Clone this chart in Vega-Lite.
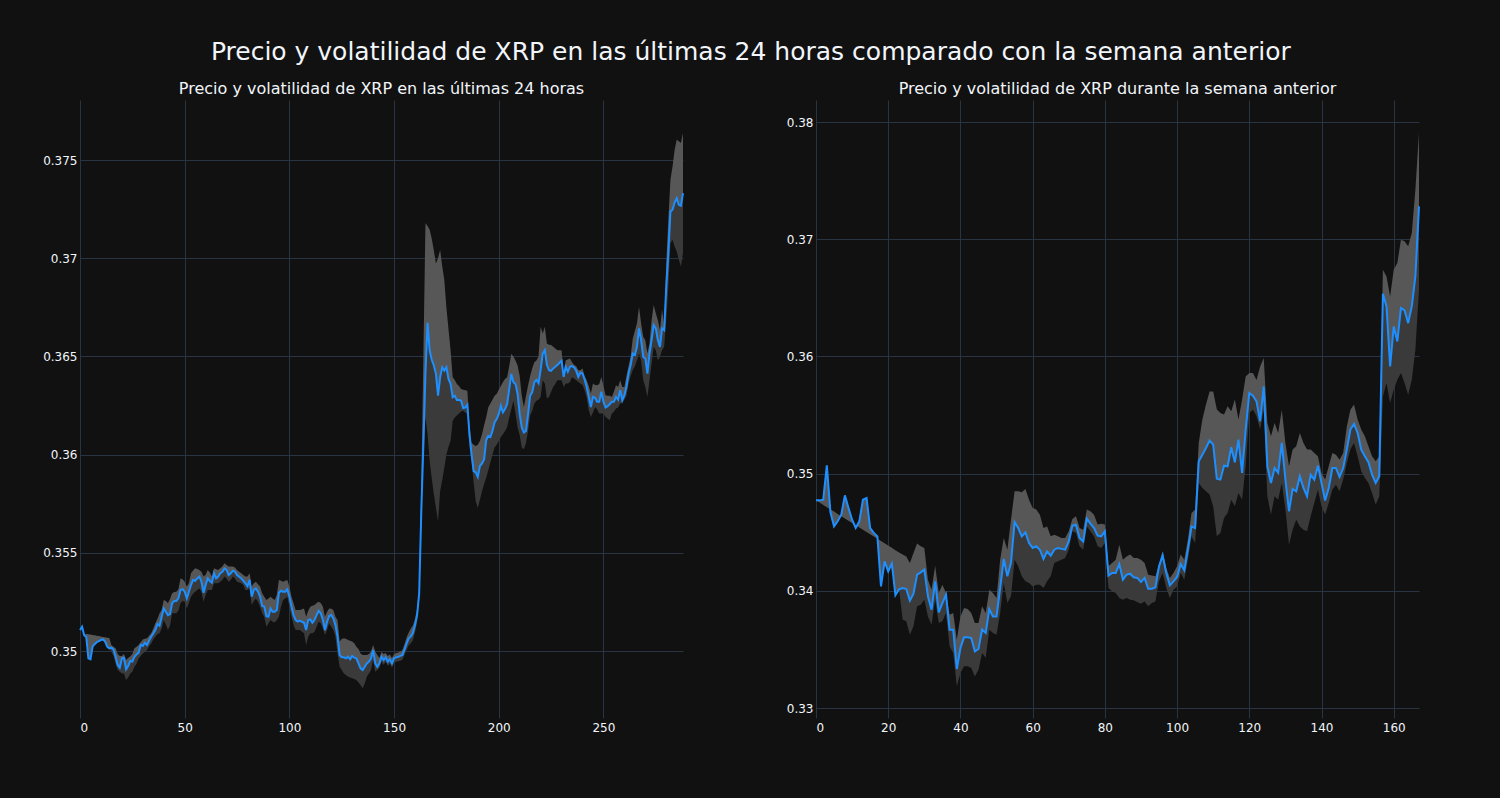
{
"$schema": "https://vega.github.io/schema/vega-lite/v6.json",
"background": "#111111",
"padding": {"left": 42, "top": 40, "right": 77, "bottom": 65},
"title": {"text": "Precio y volatilidad de XRP en las últimas 24 horas comparado con la semana anterior", "fontSize": 25, "font": "DejaVu Sans", "fontWeight": "normal", "color": "#f2f5fa", "anchor": "middle", "offset": 16, "dx": 18},
"config": {
 "view": {"stroke": null},
 "axis": {"gridColor": "#283442", "gridWidth": 1, "domain": false, "ticks": false, "labelColor": "#f2f5fa", "labelFont": "DejaVu Sans", "labelFontSize": 12, "labelPadding": 3},
 "axisX": {"labelPadding": 4},
 "title": {"fontSize": 16, "font": "DejaVu Sans", "fontWeight": "normal", "color": "#f2f5fa", "offset": 3}
},
"datasets": {
"d24": [
{"x":0,"p":0.35107,"u":0.35107,"l":0.35107},{"x":1,"p":0.35124,"u":0.35124,"l":0.35124},{"x":2,"p":0.35081,"u":0.35081,"l":0.35081},{"x":3,"p":0.35071,"u":0.35088,"l":0.35071},{"x":4,"p":0.34963,"u":0.35086,"l":0.34963},{"x":5,"p":0.34958,"u":0.35084,"l":0.34958},{"x":6,"p":0.35022,"u":0.35082,"l":0.35022},{"x":7,"p":0.35035,"u":0.3508,"l":0.35035},{"x":8,"p":0.35045,"u":0.35078,"l":0.35045},{"x":9,"p":0.35051,"u":0.35076,"l":0.35051},
{"x":10,"p":0.35056,"u":0.35074,"l":0.35056},{"x":11,"p":0.35059,"u":0.35072,"l":0.35059},{"x":12,"p":0.35048,"u":0.3507,"l":0.35048},{"x":13,"p":0.35022,"u":0.35068,"l":0.35022},{"x":14,"p":0.35014,"u":0.35066,"l":0.35014},{"x":15,"p":0.35017,"u":0.3503,"l":0.34995},{"x":16,"p":0.35008,"u":0.35022,"l":0.34975},{"x":17,"p":0.34971,"u":0.35014,"l":0.34935},{"x":18,"p":0.34929,"u":0.34985,"l":0.34905},{"x":19,"p":0.34915,"u":0.34975,"l":0.34895},
{"x":20,"p":0.34963,"u":0.34975,"l":0.34886},{"x":21,"p":0.34966,"u":0.34985,"l":0.34885},{"x":22,"p":0.34907,"u":0.34954,"l":0.34852},{"x":23,"p":0.34924,"u":0.34965,"l":0.34865},{"x":24,"p":0.34949,"u":0.34972,"l":0.34886},{"x":25,"p":0.34946,"u":0.34985,"l":0.34895},{"x":26,"p":0.34971,"u":0.35014,"l":0.3492},{"x":27,"p":0.34983,"u":0.35022,"l":0.34935},{"x":28,"p":0.34992,"u":0.35031,"l":0.34963},{"x":29,"p":0.35031,"u":0.35045,"l":0.34975},
{"x":30,"p":0.35026,"u":0.35059,"l":0.34988},{"x":31,"p":0.35042,"u":0.35062,"l":0.34995},{"x":32,"p":0.35031,"u":0.35065,"l":0.35005},{"x":33,"p":0.35053,"u":0.35078,"l":0.35025},{"x":34,"p":0.35073,"u":0.3509,"l":0.35039},{"x":35,"p":0.3509,"u":0.35115,"l":0.35059},{"x":36,"p":0.35107,"u":0.35141,"l":0.35073},{"x":37,"p":0.35138,"u":0.35165,"l":0.35085},{"x":38,"p":0.35129,"u":0.35192,"l":0.3509},{"x":39,"p":0.35175,"u":0.35209,"l":0.35115},
{"x":40,"p":0.35217,"u":0.3526,"l":0.35158},{"x":41,"p":0.352,"u":0.35255,"l":0.35135},{"x":42,"p":0.35183,"u":0.35243,"l":0.35107},{"x":43,"p":0.35188,"u":0.35265,"l":0.3513},{"x":44,"p":0.35243,"u":0.35294,"l":0.35192},{"x":45,"p":0.35255,"u":0.353,"l":0.35192},{"x":46,"p":0.35255,"u":0.35302,"l":0.35192},{"x":47,"p":0.35268,"u":0.35315,"l":0.35205},{"x":48,"p":0.35311,"u":0.3537,"l":0.35243},{"x":49,"p":0.35315,"u":0.35365,"l":0.35255},
{"x":50,"p":0.35302,"u":0.35353,"l":0.35251},{"x":51,"p":0.35268,"u":0.35328,"l":0.35217},{"x":52,"p":0.35302,"u":0.35345,"l":0.35245},{"x":53,"p":0.35336,"u":0.35396,"l":0.35277},{"x":54,"p":0.35362,"u":0.3541,"l":0.35292},{"x":55,"p":0.35358,"u":0.35421,"l":0.35302},{"x":56,"p":0.3537,"u":0.35418,"l":0.35311},{"x":57,"p":0.35379,"u":0.35413,"l":0.35319},{"x":58,"p":0.35353,"u":0.35404,"l":0.35302},{"x":59,"p":0.35297,"u":0.35379,"l":0.35251},
{"x":60,"p":0.35336,"u":0.35388,"l":0.35285},{"x":61,"p":0.3537,"u":0.35413,"l":0.35311},{"x":62,"p":0.35357,"u":0.354,"l":0.35311},{"x":63,"p":0.35348,"u":0.35379,"l":0.35311},{"x":64,"p":0.35396,"u":0.35421,"l":0.35345},{"x":65,"p":0.3537,"u":0.35417,"l":0.35345},{"x":66,"p":0.35379,"u":0.35413,"l":0.35345},{"x":67,"p":0.35396,"u":0.35422,"l":0.35353},{"x":68,"p":0.35404,"u":0.3543,"l":0.35362},{"x":69,"p":0.35421,"u":0.35447,"l":0.35379},
{"x":70,"p":0.35413,"u":0.35438,"l":0.3537},{"x":71,"p":0.35387,"u":0.3543,"l":0.35353},{"x":72,"p":0.35396,"u":0.3543,"l":0.35362},{"x":73,"p":0.35409,"u":0.3543,"l":0.35379},{"x":74,"p":0.35404,"u":0.35425,"l":0.3537},{"x":75,"p":0.35387,"u":0.35413,"l":0.35353},{"x":76,"p":0.35379,"u":0.35404,"l":0.35349},{"x":77,"p":0.3537,"u":0.35396,"l":0.35345},{"x":78,"p":0.35358,"u":0.35387,"l":0.35336},{"x":79,"p":0.35345,"u":0.35379,"l":0.35311},
{"x":80,"p":0.35331,"u":0.35379,"l":0.35311},{"x":81,"p":0.35362,"u":0.35396,"l":0.35319},{"x":82,"p":0.35277,"u":0.35328,"l":0.35234},{"x":83,"p":0.35311,"u":0.35345,"l":0.35255},{"x":84,"p":0.35319,"u":0.35353,"l":0.35268},{"x":85,"p":0.35302,"u":0.3534,"l":0.35251},{"x":86,"p":0.35277,"u":0.35328,"l":0.35226},{"x":87,"p":0.35229,"u":0.35294,"l":0.35192},{"x":88,"p":0.35226,"u":0.35277,"l":0.35175},{"x":89,"p":0.35178,"u":0.3526,"l":0.35124},
{"x":90,"p":0.35175,"u":0.35268,"l":0.35141},{"x":91,"p":0.35217,"u":0.35277,"l":0.35158},{"x":92,"p":0.352,"u":0.35268,"l":0.35149},{"x":93,"p":0.352,"u":0.3526,"l":0.35145},{"x":94,"p":0.35209,"u":0.35285,"l":0.35158},{"x":95,"p":0.35297,"u":0.35362,"l":0.35175},{"x":96,"p":0.35307,"u":0.35358,"l":0.35226},{"x":97,"p":0.35302,"u":0.35353,"l":0.3526},{"x":98,"p":0.35302,"u":0.35358,"l":0.35268},{"x":99,"p":0.35314,"u":0.35362,"l":0.35277},
{"x":100,"p":0.35277,"u":0.35328,"l":0.35226},{"x":101,"p":0.35226,"u":0.35277,"l":0.35175},{"x":102,"p":0.35183,"u":0.35243,"l":0.35132},{"x":103,"p":0.35158,"u":0.35209,"l":0.35107},{"x":104,"p":0.3515,"u":0.35209,"l":0.35107},{"x":105,"p":0.35155,"u":0.35209,"l":0.35107},{"x":106,"p":0.35149,"u":0.35213,"l":0.35098},{"x":107,"p":0.35144,"u":0.35217,"l":0.3509},{"x":108,"p":0.35107,"u":0.35175,"l":0.35031},{"x":109,"p":0.35158,"u":0.35205,"l":0.35073},
{"x":110,"p":0.35161,"u":0.35226,"l":0.3509},{"x":111,"p":0.35144,"u":0.3523,"l":0.3509},{"x":112,"p":0.35158,"u":0.35234,"l":0.35098},{"x":113,"p":0.35183,"u":0.35245,"l":0.35124},{"x":114,"p":0.35205,"u":0.35251,"l":0.35149},{"x":115,"p":0.35192,"u":0.35245,"l":0.35141},{"x":116,"p":0.35158,"u":0.35226,"l":0.35115},{"x":117,"p":0.35107,"u":0.35175,"l":0.35082},{"x":118,"p":0.35149,"u":0.352,"l":0.35107},{"x":119,"p":0.35178,"u":0.35217,"l":0.35141},
{"x":120,"p":0.35183,"u":0.35215,"l":0.35124},{"x":121,"p":0.35166,"u":0.35209,"l":0.35107},{"x":122,"p":0.35132,"u":0.35175,"l":0.35073},{"x":123,"p":0.35073,"u":0.35158,"l":0.34988},{"x":124,"p":0.3498,"u":0.35048,"l":0.3492},{"x":125,"p":0.34968,"u":0.35061,"l":0.34903},{"x":126,"p":0.34968,"u":0.35065,"l":0.34886},{"x":127,"p":0.34963,"u":0.35063,"l":0.34878},{"x":128,"p":0.34971,"u":0.35056,"l":0.34869},{"x":129,"p":0.34958,"u":0.35052,"l":0.34865},
{"x":130,"p":0.34975,"u":0.35048,"l":0.34861},{"x":131,"p":0.34966,"u":0.3504,"l":0.34857},{"x":132,"p":0.34963,"u":0.35022,"l":0.34852},{"x":133,"p":0.34937,"u":0.3501,"l":0.3484},{"x":134,"p":0.34912,"u":0.34988,"l":0.34827},{"x":135,"p":0.34903,"u":0.3498,"l":0.3481},{"x":136,"p":0.3492,"u":0.3498,"l":0.34835},{"x":137,"p":0.34937,"u":0.3498,"l":0.34869},{"x":138,"p":0.34946,"u":0.34985,"l":0.34885},{"x":139,"p":0.34963,"u":0.34997,"l":0.34903},
{"x":140,"p":0.35005,"u":0.35031,"l":0.34954},{"x":141,"p":0.34937,"u":0.34997,"l":0.34895},{"x":142,"p":0.3492,"u":0.3498,"l":0.34905},{"x":143,"p":0.34937,"u":0.34965,"l":0.34915},{"x":144,"p":0.34971,"u":0.34995,"l":0.34945},{"x":145,"p":0.34954,"u":0.34985,"l":0.3493},{"x":146,"p":0.34968,"u":0.3499,"l":0.34945},{"x":147,"p":0.34946,"u":0.34975,"l":0.34925},{"x":148,"p":0.34958,"u":0.34982,"l":0.34935},{"x":149,"p":0.34937,"u":0.34965,"l":0.34915},
{"x":150,"p":0.34963,"u":0.34985,"l":0.3494},{"x":151,"p":0.34968,"u":0.3499,"l":0.34945},{"x":152,"p":0.34971,"u":0.34992,"l":0.34948},{"x":153,"p":0.34975,"u":0.34997,"l":0.3495},{"x":154,"p":0.3498,"u":0.35005,"l":0.34955},{"x":155,"p":0.35008,"u":0.35035,"l":0.3498},{"x":156,"p":0.35039,"u":0.3507,"l":0.35005},{"x":157,"p":0.35065,"u":0.35095,"l":0.3503},{"x":158,"p":0.35073,"u":0.35115,"l":0.3504},{"x":159,"p":0.35093,"u":0.3513,"l":0.35055},
{"x":160,"p":0.35132,"u":0.35165,"l":0.35095},{"x":161,"p":0.35183,"u":0.35215,"l":0.35145},{"x":162,"p":0.35294,"u":0.3533,"l":0.35255},{"x":163,"p":0.3571,"u":0.3585,"l":0.356},{"x":164,"p":0.3605,"u":0.365,"l":0.36},{"x":165,"p":0.36416,"u":0.37179,"l":0.36189},{"x":166,"p":0.36671,"u":0.37165,"l":0.36104},{"x":167,"p":0.3653,"u":0.37145,"l":0.35968},{"x":168,"p":0.36483,"u":0.371,"l":0.3588},{"x":169,"p":0.36454,"u":0.3704,"l":0.35797},
{"x":170,"p":0.36411,"u":0.36974,"l":0.3573},{"x":171,"p":0.363,"u":0.37,"l":0.3566},{"x":172,"p":0.36394,"u":0.37043,"l":0.35814},{"x":173,"p":0.36445,"u":0.3696,"l":0.3587},{"x":174,"p":0.36428,"u":0.36889,"l":0.35933},{"x":175,"p":0.36445,"u":0.3675,"l":0.36},{"x":176,"p":0.36386,"u":0.3664,"l":0.3604},{"x":177,"p":0.3636,"u":0.36531,"l":0.3607},{"x":178,"p":0.36292,"u":0.36394,"l":0.36172},{"x":179,"p":0.363,"u":0.3638,"l":0.36189},
{"x":180,"p":0.36278,"u":0.3636,"l":0.362},{"x":181,"p":0.36278,"u":0.3635,"l":0.3621},{"x":182,"p":0.36275,"u":0.36334,"l":0.3622},{"x":183,"p":0.36237,"u":0.3633,"l":0.36224},{"x":184,"p":0.3624,"u":0.36328,"l":0.36215},{"x":185,"p":0.36254,"u":0.36326,"l":0.36206},{"x":186,"p":0.36104,"u":0.3615,"l":0.3604},{"x":187,"p":0.36002,"u":0.36061,"l":0.35968},{"x":188,"p":0.35916,"u":0.3605,"l":0.3586},{"x":189,"p":0.3591,"u":0.36044,"l":0.35763},
{"x":190,"p":0.35886,"u":0.3605,"l":0.35729},{"x":191,"p":0.35942,"u":0.3607,"l":0.3577},{"x":192,"p":0.35955,"u":0.36104,"l":0.35814},{"x":193,"p":0.35976,"u":0.3615,"l":0.3585},{"x":194,"p":0.36073,"u":0.3619,"l":0.35882},{"x":195,"p":0.36096,"u":0.36241,"l":0.3592},{"x":196,"p":0.3609,"u":0.3626,"l":0.3596},{"x":197,"p":0.36121,"u":0.3628,"l":0.36},{"x":198,"p":0.36164,"u":0.363,"l":0.36036},{"x":199,"p":0.36181,"u":0.36309,"l":0.3605},
{"x":200,"p":0.36206,"u":0.3633,"l":0.3607},{"x":201,"p":0.36249,"u":0.3635,"l":0.3609},{"x":202,"p":0.36215,"u":0.3637,"l":0.36104},{"x":203,"p":0.36232,"u":0.36385,"l":0.3612},{"x":204,"p":0.36258,"u":0.36394,"l":0.3614},{"x":205,"p":0.36334,"u":0.3645,"l":0.36189},{"x":206,"p":0.36411,"u":0.36514,"l":0.3623},{"x":207,"p":0.36369,"u":0.365,"l":0.36275},{"x":208,"p":0.3636,"u":0.3648,"l":0.3621},{"x":209,"p":0.36309,"u":0.36454,"l":0.36138},
{"x":210,"p":0.36206,"u":0.364,"l":0.361},{"x":211,"p":0.36138,"u":0.363,"l":0.36036},{"x":212,"p":0.36113,"u":0.36241,"l":0.36027},{"x":213,"p":0.36121,"u":0.363,"l":0.3606},{"x":214,"p":0.36206,"u":0.36352,"l":0.36121},{"x":215,"p":0.363,"u":0.364,"l":0.362},{"x":216,"p":0.36318,"u":0.3644,"l":0.36224},{"x":217,"p":0.36369,"u":0.3647,"l":0.3626},{"x":218,"p":0.36381,"u":0.3648,"l":0.36275},{"x":219,"p":0.36364,"u":0.365,"l":0.3628},
{"x":220,"p":0.3643,"u":0.36651,"l":0.36294},{"x":221,"p":0.36515,"u":0.36617,"l":0.36379},{"x":222,"p":0.36532,"u":0.36651,"l":0.36362},{"x":223,"p":0.36456,"u":0.36566,"l":0.36286},{"x":224,"p":0.3643,"u":0.3656,"l":0.36294},{"x":225,"p":0.36427,"u":0.36558,"l":0.3632},{"x":226,"p":0.36439,"u":0.3655,"l":0.36345},{"x":227,"p":0.36448,"u":0.3654,"l":0.3636},{"x":228,"p":0.36456,"u":0.36532,"l":0.36379},{"x":229,"p":0.36468,"u":0.36532,"l":0.36379},
{"x":230,"p":0.36478,"u":0.36532,"l":0.36379},{"x":231,"p":0.36396,"u":0.36413,"l":0.36345},{"x":232,"p":0.36447,"u":0.36481,"l":0.36362},{"x":233,"p":0.36422,"u":0.36485,"l":0.36362},{"x":234,"p":0.36447,"u":0.3649,"l":0.3637},{"x":235,"p":0.36451,"u":0.3647,"l":0.36396},{"x":236,"p":0.36444,"u":0.36457,"l":0.36387},{"x":237,"p":0.36427,"u":0.3645,"l":0.36379},{"x":238,"p":0.36396,"u":0.3643,"l":0.3637},{"x":239,"p":0.36417,"u":0.3643,"l":0.36362},
{"x":240,"p":0.36413,"u":0.36439,"l":0.36355},{"x":241,"p":0.36383,"u":0.364,"l":0.36328},{"x":242,"p":0.36345,"u":0.36379,"l":0.3629},{"x":243,"p":0.36294,"u":0.3635,"l":0.36226},{"x":244,"p":0.36243,"u":0.36311,"l":0.36192},{"x":245,"p":0.36294,"u":0.36362,"l":0.36215},{"x":246,"p":0.3629,"u":0.36355,"l":0.36243},{"x":247,"p":0.36269,"u":0.36354,"l":0.3623},{"x":248,"p":0.36269,"u":0.3636,"l":0.36209},{"x":249,"p":0.3632,"u":0.36396,"l":0.36209},
{"x":250,"p":0.36269,"u":0.3635,"l":0.36209},{"x":251,"p":0.3624,"u":0.36302,"l":0.36192},{"x":252,"p":0.36247,"u":0.363,"l":0.36184},{"x":253,"p":0.36257,"u":0.363,"l":0.36175},{"x":254,"p":0.36269,"u":0.36294,"l":0.36209},{"x":255,"p":0.36269,"u":0.3632,"l":0.36218},{"x":256,"p":0.36294,"u":0.36354,"l":0.36235},{"x":257,"p":0.3628,"u":0.36345,"l":0.3624},{"x":258,"p":0.36328,"u":0.36379,"l":0.3626},{"x":259,"p":0.36277,"u":0.36345,"l":0.36265},
{"x":260,"p":0.36303,"u":0.36345,"l":0.3628},{"x":261,"p":0.36345,"u":0.364,"l":0.363},{"x":262,"p":0.36413,"u":0.3645,"l":0.36362},{"x":263,"p":0.36456,"u":0.365,"l":0.364},{"x":264,"p":0.36515,"u":0.3659,"l":0.3643},{"x":265,"p":0.36507,"u":0.3663,"l":0.3645},{"x":266,"p":0.36549,"u":0.36668,"l":0.3648},{"x":267,"p":0.36643,"u":0.36753,"l":0.36515},{"x":268,"p":0.36583,"u":0.36668,"l":0.3648},{"x":269,"p":0.36498,"u":0.366,"l":0.36379},
{"x":270,"p":0.3649,"u":0.36583,"l":0.36345},{"x":271,"p":0.36413,"u":0.36515,"l":0.36294},{"x":272,"p":0.36515,"u":0.36566,"l":0.36379},{"x":273,"p":0.36583,"u":0.36685,"l":0.36464},{"x":274,"p":0.3666,"u":0.36762,"l":0.36549},{"x":275,"p":0.36643,"u":0.3672,"l":0.36532},{"x":276,"p":0.36583,"u":0.36685,"l":0.36481},{"x":277,"p":0.36549,"u":0.36634,"l":0.36498},{"x":278,"p":0.36643,"u":0.3674,"l":0.36532},{"x":279,"p":0.36634,"u":0.3665,"l":0.36549},
{"x":280,"p":0.36855,"u":0.36974,"l":0.36685},{"x":281,"p":0.37026,"u":0.37196,"l":0.36855},{"x":282,"p":0.37238,"u":0.374,"l":0.37077},{"x":283,"p":0.37247,"u":0.37468,"l":0.37094},{"x":284,"p":0.37284,"u":0.37553,"l":0.3706},{"x":285,"p":0.37306,"u":0.37604,"l":0.37034},{"x":286,"p":0.37272,"u":0.37596,"l":0.36992},{"x":287,"p":0.37267,"u":0.37587,"l":0.36958},{"x":288,"p":0.37332,"u":0.37638,"l":0.37026}
],
"d7": [
{"x":0,"p":0.34772,"u":0.34772,"l":0.34772},{"x":1,"p":0.34772,"u":0.34753,"l":0.34772},{"x":2,"p":0.34778,"u":0.34733,"l":0.34778},{"x":3,"p":0.35071,"u":0.34714,"l":0.35071},{"x":4,"p":0.3467,"u":0.34695,"l":0.3467},{"x":5,"p":0.3455,"u":0.34676,"l":0.3455},{"x":6,"p":0.34593,"u":0.34656,"l":0.34593},{"x":7,"p":0.3465,"u":0.34637,"l":0.3465},{"x":8,"p":0.34815,"u":0.34618,"l":0.34815},{"x":9,"p":0.34707,"u":0.34598,"l":0.34707},
{"x":10,"p":0.34607,"u":0.34579,"l":0.34607},{"x":11,"p":0.34536,"u":0.3456,"l":0.34536},{"x":12,"p":0.34593,"u":0.3454,"l":0.34593},{"x":13,"p":0.34778,"u":0.34521,"l":0.34778},{"x":14,"p":0.34792,"u":0.34502,"l":0.34792},{"x":15,"p":0.34536,"u":0.34482,"l":0.34536},{"x":16,"p":0.34494,"u":0.34463,"l":0.34494},{"x":17,"p":0.34465,"u":0.34444,"l":0.34465},{"x":18,"p":0.34038,"u":0.34425,"l":0.34038},{"x":19,"p":0.34252,"u":0.34405,"l":0.34252},
{"x":20,"p":0.34166,"u":0.34386,"l":0.34166},{"x":21,"p":0.34232,"u":0.34367,"l":0.34232},{"x":22,"p":0.33962,"u":0.34347,"l":0.33962},{"x":23,"p":0.34013,"u":0.34328,"l":0.34013},{"x":24,"p":0.34024,"u":0.34309,"l":0.33754},{"x":25,"p":0.34016,"u":0.34294,"l":0.3374},{"x":26,"p":0.33916,"u":0.34238,"l":0.33626},{"x":27,"p":0.33976,"u":0.34323,"l":0.33697},{"x":28,"p":0.34138,"u":0.34403,"l":0.33868},{"x":29,"p":0.34158,"u":0.3438,"l":0.33882},
{"x":30,"p":0.34181,"u":0.34366,"l":0.33925},{"x":31,"p":0.33953,"u":0.34095,"l":0.33782},{"x":32,"p":0.33839,"u":0.3401,"l":0.33711},{"x":33,"p":0.34081,"u":0.34215,"l":0.33925},{"x":34,"p":0.33816,"u":0.33981,"l":0.33725},{"x":35,"p":0.33896,"u":0.34053,"l":0.3374},{"x":36,"p":0.33967,"u":0.33981,"l":0.33811},{"x":37,"p":0.33669,"u":0.33797,"l":0.33526},{"x":38,"p":0.33669,"u":0.33811,"l":0.33469},{"x":39,"p":0.33333,"u":0.33583,"l":0.33185},
{"x":40,"p":0.33512,"u":0.33782,"l":0.33299},{"x":41,"p":0.33603,"u":0.33853,"l":0.33356},{"x":42,"p":0.33603,"u":0.33845,"l":0.33356},{"x":43,"p":0.33597,"u":0.33811,"l":0.33341},{"x":44,"p":0.33484,"u":0.33725,"l":0.3327},{"x":45,"p":0.33504,"u":0.33725,"l":0.33327},{"x":46,"p":0.3367,"u":0.33868,"l":0.33469},{"x":47,"p":0.3364,"u":0.33811,"l":0.3343},{"x":48,"p":0.33845,"u":0.3401,"l":0.33669},{"x":49,"p":0.33782,"u":0.33981,"l":0.3364},
{"x":50,"p":0.33782,"u":0.33939,"l":0.33626},{"x":51,"p":0.34024,"u":0.34266,"l":0.33811},{"x":52,"p":0.34272,"u":0.34451,"l":0.34067},{"x":53,"p":0.34124,"u":0.34351,"l":0.33896},{"x":54,"p":0.34238,"u":0.34607,"l":0.33953},{"x":55,"p":0.34587,"u":0.3485,"l":0.34266},{"x":56,"p":0.34536,"u":0.34849,"l":0.34209},{"x":57,"p":0.34465,"u":0.34841,"l":0.34124},{"x":58,"p":0.34499,"u":0.34869,"l":0.34081},{"x":59,"p":0.34408,"u":0.34778,"l":0.34067},
{"x":60,"p":0.34366,"u":0.34707,"l":0.34038},{"x":61,"p":0.3438,"u":0.34693,"l":0.34053},{"x":62,"p":0.34351,"u":0.3465,"l":0.34053},{"x":63,"p":0.34272,"u":0.34536,"l":0.34024},{"x":64,"p":0.34337,"u":0.3455,"l":0.34081},{"x":65,"p":0.343,"u":0.34465,"l":0.34124},{"x":66,"p":0.34351,"u":0.34479,"l":0.34238},{"x":67,"p":0.34366,"u":0.34465,"l":0.34252},{"x":68,"p":0.34358,"u":0.34451,"l":0.34266},{"x":69,"p":0.34351,"u":0.34451,"l":0.3428},
{"x":70,"p":0.34422,"u":0.34508,"l":0.34351},{"x":71,"p":0.34556,"u":0.34613,"l":0.34508},{"x":72,"p":0.34562,"u":0.34636,"l":0.34494},{"x":73,"p":0.34451,"u":0.34536,"l":0.3438},{"x":74,"p":0.34422,"u":0.34522,"l":0.34351},{"x":75,"p":0.34616,"u":0.34693,"l":0.3455},{"x":76,"p":0.34573,"u":0.34679,"l":0.34508},{"x":77,"p":0.34536,"u":0.3465,"l":0.34465},{"x":78,"p":0.34471,"u":0.34565,"l":0.3438},{"x":79,"p":0.34465,"u":0.34573,"l":0.34366},
{"x":80,"p":0.34508,"u":0.34567,"l":0.34408},{"x":81,"p":0.34129,"u":0.34209,"l":0.34024},{"x":82,"p":0.34152,"u":0.34238,"l":0.33996},{"x":83,"p":0.34152,"u":0.34266,"l":0.33981},{"x":84,"p":0.34229,"u":0.34394,"l":0.33939},{"x":85,"p":0.34095,"u":0.34266,"l":0.33925},{"x":86,"p":0.34138,"u":0.34294,"l":0.33939},{"x":87,"p":0.34146,"u":0.34309,"l":0.33925},{"x":88,"p":0.34115,"u":0.3428,"l":0.33919},{"x":89,"p":0.3411,"u":0.3428,"l":0.33902},
{"x":90,"p":0.34075,"u":0.34266,"l":0.3389},{"x":91,"p":0.3411,"u":0.34238,"l":0.3391},{"x":92,"p":0.34018,"u":0.34138,"l":0.33868},{"x":93,"p":0.34018,"u":0.3413,"l":0.33896},{"x":94,"p":0.3403,"u":0.34124,"l":0.3391},{"x":95,"p":0.34209,"u":0.34223,"l":0.34081},{"x":96,"p":0.34303,"u":0.34337,"l":0.34152},{"x":97,"p":0.34152,"u":0.34195,"l":0.34024},{"x":98,"p":0.34047,"u":0.34109,"l":0.33939},{"x":99,"p":0.34081,"u":0.34152,"l":0.3401},
{"x":100,"p":0.34118,"u":0.34209,"l":0.34038},{"x":101,"p":0.34229,"u":0.34309,"l":0.34152},{"x":102,"p":0.34175,"u":0.34266,"l":0.34095},{"x":103,"p":0.34351,"u":0.34437,"l":0.34266},{"x":104,"p":0.3455,"u":0.34665,"l":0.34465},{"x":105,"p":0.34536,"u":0.34693,"l":0.34408},{"x":106,"p":0.35105,"u":0.35262,"l":0.3492},{"x":107,"p":0.35162,"u":0.35461,"l":0.34878},{"x":108,"p":0.35219,"u":0.35589,"l":0.34849},{"x":109,"p":0.35282,"u":0.35701,"l":0.34821},
{"x":110,"p":0.35247,"u":0.357,"l":0.3472},{"x":111,"p":0.34957,"u":0.3555,"l":0.34465},{"x":112,"p":0.34949,"u":0.35518,"l":0.34494},{"x":113,"p":0.35068,"u":0.35504,"l":0.34622},{"x":114,"p":0.35063,"u":0.35575,"l":0.34665},{"x":115,"p":0.35225,"u":0.35532,"l":0.34778},{"x":116,"p":0.35097,"u":0.35632,"l":0.34721},{"x":117,"p":0.3529,"u":0.35461,"l":0.34835},{"x":118,"p":0.35006,"u":0.3563,"l":0.34778},{"x":119,"p":0.35376,"u":0.35829,"l":0.35063},
{"x":120,"p":0.35687,"u":0.35858,"l":0.35518},{"x":121,"p":0.35664,"u":0.35858,"l":0.35546},{"x":122,"p":0.35616,"u":0.358,"l":0.3549},{"x":123,"p":0.35447,"u":0.35915,"l":0.35376},{"x":124,"p":0.35744,"u":0.35986,"l":0.35546},{"x":125,"p":0.35063,"u":0.35432,"l":0.34807},{"x":126,"p":0.3492,"u":0.35319,"l":0.3465},{"x":127,"p":0.35048,"u":0.35432,"l":0.34807},{"x":128,"p":0.35006,"u":0.35347,"l":0.34778},{"x":129,"p":0.35262,"u":0.35546,"l":0.34921},
{"x":130,"p":0.34949,"u":0.35262,"l":0.34693},{"x":131,"p":0.34679,"u":0.35063,"l":0.34394},{"x":132,"p":0.34869,"u":0.35205,"l":0.34522},{"x":133,"p":0.34849,"u":0.35233,"l":0.34607},{"x":134,"p":0.34977,"u":0.35347,"l":0.3455},{"x":135,"p":0.34878,"u":0.35262,"l":0.34522},{"x":136,"p":0.34807,"u":0.35205,"l":0.34508},{"x":137,"p":0.34991,"u":0.35205,"l":0.34636},{"x":138,"p":0.34949,"u":0.35176,"l":0.3475},{"x":139,"p":0.35068,"u":0.35148,"l":0.34863},
{"x":140,"p":0.3492,"u":0.35006,"l":0.34721},{"x":141,"p":0.3477,"u":0.34949,"l":0.3465},{"x":142,"p":0.34878,"u":0.35063,"l":0.3475},{"x":143,"p":0.35048,"u":0.35176,"l":0.34863},{"x":144,"p":0.35048,"u":0.35162,"l":0.34906},{"x":145,"p":0.34972,"u":0.35119,"l":0.34849},{"x":146,"p":0.35048,"u":0.35176,"l":0.34949},{"x":147,"p":0.35205,"u":0.354,"l":0.35091},{"x":148,"p":0.35376,"u":0.35546,"l":0.35205},{"x":149,"p":0.35424,"u":0.35589,"l":0.35262},
{"x":150,"p":0.35347,"u":0.35461,"l":0.35148},{"x":151,"p":0.35205,"u":0.35376,"l":0.3502},{"x":152,"p":0.35148,"u":0.35319,"l":0.34963},{"x":153,"p":0.35097,"u":0.35233,"l":0.34921},{"x":154,"p":0.34991,"u":0.35148,"l":0.34835},{"x":155,"p":0.3492,"u":0.35105,"l":0.34735},{"x":156,"p":0.34977,"u":0.35148,"l":0.34807},{"x":157,"p":0.36535,"u":0.3674,"l":0.35659},{"x":158,"p":0.36427,"u":0.36683,"l":0.35773},{"x":159,"p":0.35915,"u":0.36512,"l":0.35602},
{"x":160,"p":0.36256,"u":0.3674,"l":0.35716},{"x":161,"p":0.36128,"u":0.36797,"l":0.35801},{"x":162,"p":0.36413,"u":0.36996,"l":0.35858},{"x":163,"p":0.36393,"u":0.36982,"l":0.35773},{"x":164,"p":0.36284,"u":0.3694,"l":0.35673},{"x":165,"p":0.36427,"u":0.37053,"l":0.35801},{"x":166,"p":0.36683,"u":0.37422,"l":0.36057},{"x":167,"p":0.3728,"u":0.37906,"l":0.36569}
]
},
"hconcat": [
{
 "width": 603, "height": 618,
 "title": "Precio y volatilidad de XRP en las últimas 24 horas",
 "data": {"name": "d24"},
 "encoding": {"x": {"field": "x", "type": "quantitative", "title": null, "scale": {"domain": [0, 288], "nice": false, "zero": false}, "axis": {"values": [0, 50, 100, 150, 200, 250]}}},
 "layer": [
  {"mark": {"type": "area", "color": "#575757"}, "encoding": {"y": {"field": "p", "type": "quantitative", "title": null, "scale": {"domain": [0.34659, 0.37806], "nice": false, "zero": false}, "axis": {"values": [0.35, 0.355, 0.36, 0.365, 0.37, 0.375], "format": ".3~f"}}, "y2": {"field": "u"}}},
  {"mark": {"type": "area", "color": "#3a3a3a"}, "encoding": {"y": {"field": "l", "type": "quantitative", "title": null, "scale": {"domain": [0.34659, 0.37806], "nice": false, "zero": false}}, "y2": {"field": "p"}}},
  {"mark": {"type": "line", "color": "#1e8fff", "strokeWidth": 2}, "encoding": {"y": {"field": "p", "type": "quantitative", "title": null, "scale": {"domain": [0.34659, 0.37806], "nice": false, "zero": false}}}}
 ]
},
{
 "width": 603, "height": 618,
 "title": "Precio y volatilidad de XRP durante la semana anterior",
 "data": {"name": "d7"},
 "encoding": {"x": {"field": "x", "type": "quantitative", "title": null, "scale": {"domain": [0, 167], "nice": false, "zero": false}, "axis": {"values": [0, 20, 40, 60, 80, 100, 120, 140, 160]}}},
 "layer": [
  {"mark": {"type": "area", "color": "#575757"}, "encoding": {"y": {"field": "p", "type": "quantitative", "title": null, "scale": {"domain": [0.32915, 0.38188], "nice": false, "zero": false}, "axis": {"values": [0.33, 0.34, 0.35, 0.36, 0.37, 0.38], "format": ".2~f"}}, "y2": {"field": "u"}}},
  {"mark": {"type": "area", "color": "#3a3a3a"}, "encoding": {"y": {"field": "l", "type": "quantitative", "title": null, "scale": {"domain": [0.32915, 0.38188], "nice": false, "zero": false}}, "y2": {"field": "p"}}},
  {"mark": {"type": "line", "color": "#1e8fff", "strokeWidth": 2}, "encoding": {"y": {"field": "p", "type": "quantitative", "title": null, "scale": {"domain": [0.32915, 0.38188], "nice": false, "zero": false}}}}
 ]
}
],
"spacing": 99
}
